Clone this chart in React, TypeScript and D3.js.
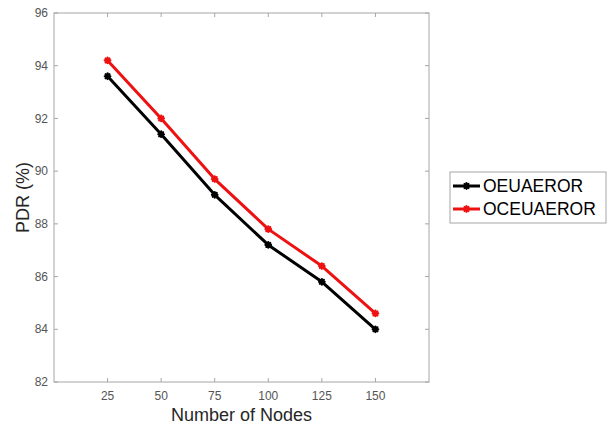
import React from "react";
import * as d3 from "d3";

const nodes = [25, 50, 75, 100, 125, 150];
const oeuaeror = [93.6, 91.4, 89.1, 87.2, 85.8, 84.0];
const oceuaeror = [94.2, 92.0, 89.7, 87.8, 86.4, 84.6];
const xTicks = [25, 50, 75, 100, 125, 150];
const yTicks = [82, 84, 86, 88, 90, 92, 94, 96];
const seriesNames = ["OEUAEROR", "OCEUAEROR"];
const seriesColors = ["#000000", "#ee1111"];

const W = 614;
const H = 428;
const plot = { left: 54, top: 13, right: 429, bottom: 382 };
const axisColor = "#a6a6a6";
const tickText = "#555555";
const labelText = "#262626";
const font = "'Liberation Sans', Arial, Helvetica, sans-serif";

// small asterisk marker centred on (0,0)
function asterisk(r: number) {
  const parts: string[] = [];
  for (let i = 0; i < 4; i++) {
    const a = (i * Math.PI) / 4;
    const dx = r * Math.cos(a);
    const dy = r * Math.sin(a);
    parts.push(`M${-dx},${-dy}L${dx},${dy}`);
  }
  return parts.join("");
}

export default function App() {
  const x = d3.scaleLinear().domain([0, 175]).range([plot.left, plot.right]);
  const y = d3.scaleLinear().domain([82, 96]).range([plot.bottom, plot.top]);
  const line = d3
    .line<number>()
    .x((_, i) => x(nodes[i]))
    .y((d) => y(d));
  const series = [oeuaeror, oceuaeror];
  const tickLen = 4;

  const legend = { x: 450, y: 172, w: 156, h: 51 };

  return (
    <svg
      width={W}
      height={H}
      style={{ position: "absolute", left: 0, top: 0, background: "#fff" }}
      fontFamily={font}
    >
      <rect x={0} y={0} width={W} height={H} fill="#fff" />

      {/* axes box */}
      <rect
        x={plot.left}
        y={plot.top}
        width={plot.right - plot.left}
        height={plot.bottom - plot.top}
        fill="#fff"
        stroke={axisColor}
        strokeWidth={1}
      />

      {/* x ticks, bottom and top */}
      {xTicks.map((t) => (
        <g key={"x" + t}>
          <line x1={x(t)} x2={x(t)} y1={plot.bottom} y2={plot.bottom - tickLen} stroke={axisColor} />
          <line x1={x(t)} x2={x(t)} y1={plot.top} y2={plot.top + tickLen} stroke={axisColor} />
          <text x={x(t)} y={plot.bottom + 18} textAnchor="middle" fontSize={12} fill={tickText}>
            {t}
          </text>
        </g>
      ))}

      {/* y ticks, left and right */}
      {yTicks.map((t) => (
        <g key={"y" + t}>
          <line x1={plot.left} x2={plot.left + tickLen} y1={y(t)} y2={y(t)} stroke={axisColor} />
          <line x1={plot.right} x2={plot.right - tickLen} y1={y(t)} y2={y(t)} stroke={axisColor} />
          <text x={plot.left - 6} y={y(t)} dy="0.35em" textAnchor="end" fontSize={12} fill={tickText}>
            {t}
          </text>
        </g>
      ))}

      {/* series */}
      {series.map((vals, si) => (
        <g key={"s" + si}>
          <path d={line(vals) || ""} fill="none" stroke={seriesColors[si]} strokeWidth={3} strokeLinejoin="round" />
          {vals.map((v, i) => (
            <path
              key={i}
              transform={`translate(${x(nodes[i])},${y(v)})`}
              d={asterisk(2.8)}
              stroke={seriesColors[si]}
              strokeWidth={2.2}
              strokeLinecap="round"
            />
          ))}
        </g>
      ))}

      {/* axis labels */}
      <text
        x={(plot.left + plot.right) / 2}
        y={421}
        textAnchor="middle"
        fontSize={18}
        fill={labelText}
      >
        Number of Nodes
      </text>
      <text
        transform={`translate(29,${(plot.top + plot.bottom) / 2}) rotate(-90)`}
        textAnchor="middle"
        fontSize={18}
        fill={labelText}
      >
        PDR (%)
      </text>

      {/* legend */}
      <rect
        x={legend.x}
        y={legend.y}
        width={legend.w}
        height={legend.h}
        fill="#fff"
        stroke={axisColor}
        strokeWidth={1}
      />
      {seriesNames.map((name, i) => {
        const cy = legend.y + 14 + i * 23;
        return (
          <g key={"l" + i}>
            <line x1={legend.x + 3} x2={legend.x + 30} y1={cy} y2={cy} stroke={seriesColors[i]} strokeWidth={3} />
            <path
              transform={`translate(${legend.x + 16.5},${cy})`}
              d={asterisk(2.8)}
              stroke={seriesColors[i]}
              strokeWidth={2.2}
              strokeLinecap="round"
            />
            <text x={legend.x + 33} y={cy} dy="0.36em" fontSize={17.5} fill="#000">
              {name}
            </text>
          </g>
        );
      })}
    </svg>
  );
}
